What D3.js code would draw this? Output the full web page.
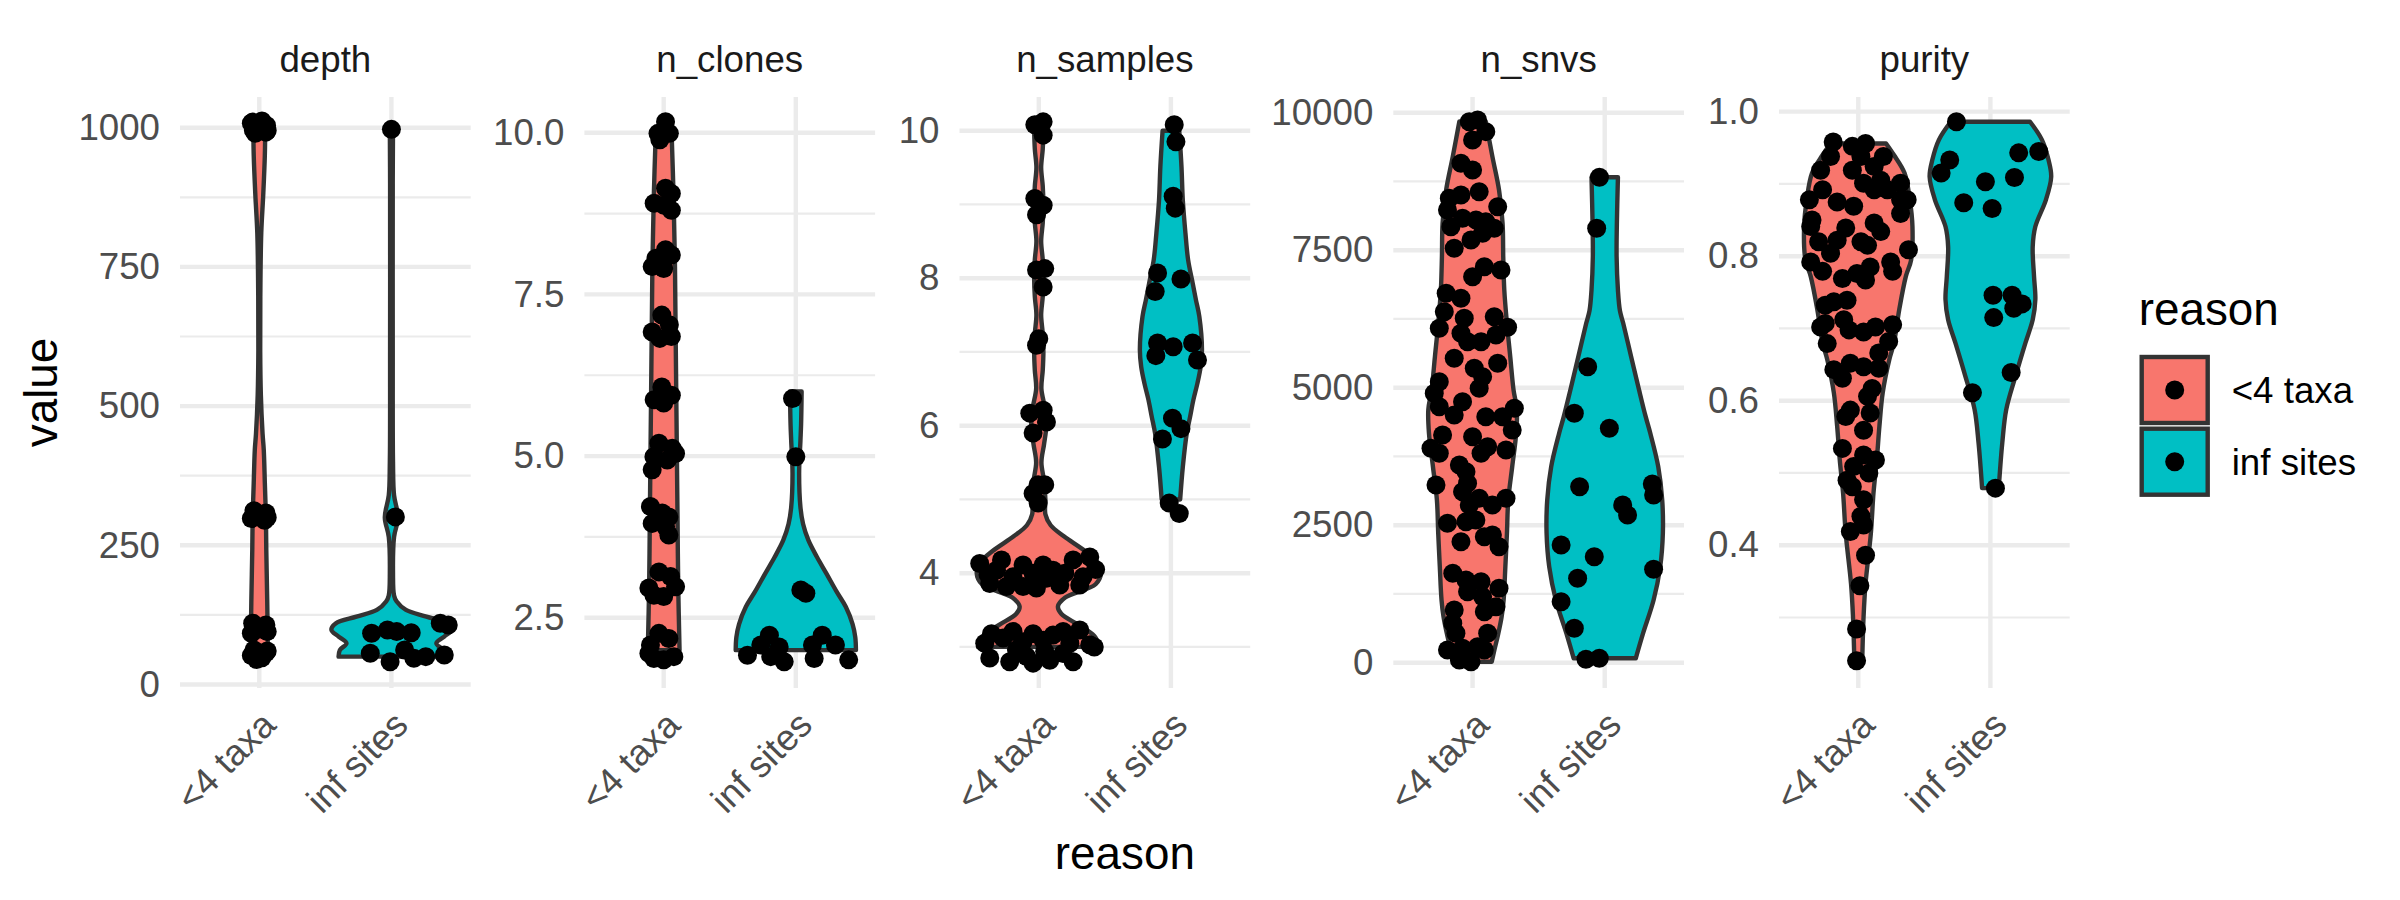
<!DOCTYPE html>
<html>
<head>
<meta charset="utf-8">
<script src="https://cdn.jsdelivr.net/npm/d3@7"></script>
<style>
  body { margin: 0; background: #fff; }
  svg text { font-family: "Liberation Sans", Arial, Helvetica, sans-serif; }
</style>
</head>
<body>
<svg id="chart" width="2400" height="900"></svg>
<script>
// categories
const reasons = ['<4 taxa', 'inf sites'];
const fills = ['#F8766D', '#00BFC4'];
const metrics = ['depth', 'n_clones', 'n_samples', 'n_snvs', 'purity'];

// y axis ticks (major / minor) and visible range per facet
const depthTicks = [0, 250, 500, 750, 1000];
const depthMinor = [125, 375, 625, 875];
const depthRange = [-6.3, 1055.1];
const clonesTicks = [2.5, 5, 7.5, 10];
const clonesMinor = [3.75, 6.25, 8.75];
const clonesRange = [1.415, 10.552];
const samplesTicks = [4, 6, 8, 10];
const samplesMinor = [3, 5, 7, 9];
const samplesRange = [2.443, 10.457];
const snvsTicks = [0, 2500, 5000, 7500, 10000];
const snvsMinor = [1250, 3750, 6250, 8750];
const snvsRange = [-460, 10285];
const purityTicks = [0.4, 0.6, 0.8, 1.0];
const purityMinor = [0.3, 0.5, 0.7, 0.9];
const purityRange = [0.2024, 1.0203];

// violin outlines: [value, half width as share of category step]
const depthViolinTaxa = [[1000,0.045],[950,0.042],[880,0.03],[811,0.015],[700,0.008],[600,0.007],[520,0.012],[450,0.025],[421,0.034],[362,0.042],[300,0.05],[242,0.053],[152,0.06],[100,0.063],[50,0.065]];
const depthViolinInf = [[1000,0.012],[900,0.01],[600,0.01],[400,0.012],[340,0.02],[300,0.05],[265,0.02],[200,0.012],[160,0.02],[149,0.04],[134,0.11],[122,0.265],[110,0.42],[98,0.454],[86,0.40],[74,0.34],[62,0.39],[50,0.40]];
const clonesViolinTaxa = [[10,0.06],[9,0.075],[8,0.085],[7,0.09],[6,0.095],[5,0.1],[4,0.105],[3,0.11],[2,0.12]];
const clonesViolinInf = [[6,0.044],[5.5,0.04],[5.24,0.035],[4.73,0.025],[4.21,0.035],[3.95,0.055],[3.7,0.095],[3.44,0.16],[3.18,0.233],[2.9,0.31],[2.67,0.378],[2.4,0.43],[2.2,0.45],[2,0.455]];
const samplesViolinTaxa = [[10,0.035],[9.75,0.03],[9.5,0.018],[9.25,0.03],[9,0.035],[8.75,0.03],[8.5,0.018],[8.25,0.03],[8,0.035],[7.75,0.03],[7.5,0.018],[7.25,0.03],[7,0.035],[6.75,0.03],[6.5,0.02],[6.25,0.045],[6,0.057],[5.75,0.04],[5.5,0.02],[5.25,0.04],[5,0.05],[4.8,0.05],[4.65,0.09],[4.5,0.19],[4.3,0.35],[4.15,0.44],[4,0.47],[3.85,0.43],[3.67,0.2],[3.55,0.145],[3.45,0.17],[3.3,0.3],[3.15,0.42],[3,0.46]];
const samplesViolinInf = [[10,0.063],[9.51,0.08],[9.06,0.09],[8.61,0.11],[8.25,0.13],[7.93,0.165],[7.7,0.19],[7.48,0.215],[7.03,0.235],[6.8,0.225],[6.57,0.2],[6.35,0.17],[6.12,0.145],[5.9,0.12],[5.44,0.09],[5,0.07]];
const snvsViolinTaxa = [[9840,0.10],[9200,0.15],[8595,0.2],[7989,0.227],[7382,0.232],[6776,0.24],[6170,0.26],[5564,0.285],[4958,0.31],[4600,0.335],[4171,0.33],[3565,0.30],[2958,0.27],[2353,0.26],[1745,0.248],[1140,0.235],[836,0.22],[533,0.195],[231,0.165],[18,0.145]];
const snvsViolinInf = [[8825,0.10],[7989,0.092],[7382,0.09],[6776,0.10],[6400,0.115],[6170,0.14],[5564,0.20],[4958,0.26],[4473,0.31],[4171,0.345],[3565,0.405],[2958,0.435],[2353,0.44],[1745,0.42],[1140,0.37],[533,0.29],[80,0.235]];
const purityViolinTaxa = [[0.956,0.21],[0.94,0.27],[0.915,0.35],[0.878,0.39],[0.841,0.41],[0.795,0.40],[0.772,0.36],[0.726,0.31],[0.68,0.27],[0.657,0.235],[0.611,0.185],[0.565,0.16],[0.518,0.14],[0.472,0.115],[0.416,0.095],[0.347,0.055],[0.301,0.04],[0.241,0.03]];
const purityViolinInf = [[0.986,0.30],[0.961,0.39],[0.933,0.44],[0.91,0.46],[0.878,0.42],[0.841,0.34],[0.813,0.32],[0.772,0.33],[0.74,0.34],[0.712,0.32],[0.68,0.265],[0.634,0.19],[0.588,0.12],[0.542,0.09],[0.479,0.063]];

// jittered points: [value, offset as share of category step]
const depthPtsTaxa = [[1010,-0.05],[1005,0.04],[998,-0.02],[992,0.05],[1002,0],[1008,-0.06],[995,0.06],[990,-0.03],[1012,0.02],[1000,0.03],[996,-0.045],[1004,0.055],
  [312,-0.04],[308,0.05],[303,0],[298,-0.06],[295,0.04],[300,0.06],[305,-0.02],
  [110,-0.05],[104,0.04],[98,-0.03],[95,0.06],[92,-0.06],[100,0.01],[107,0.05],
  [62,-0.04],[57,0.05],[52,-0.06],[48,0.02],[55,0],[45,-0.02],[60,0.06]];
const depthPtsInf = [[997,0],[301,0.03],[92,-0.15],[98,-0.03],[95,0.04],[93,0.15],[110,0.37],[107,0.43],[56,-0.16],[41,-0.01],[62,0.10],[47,0.17],[50,0.26],[53,0.40]];
const clonesPtsTaxa = [[10.17,0.014],[10.04,0.014],[9.99,-0.043],[9.99,0.043],[9.89,-0.029],
  [9.14,0.014],[9.06,0.058],[8.91,-0.072],[8.88,0],[8.80,0.058],
  [8.19,0.014],[8.11,0.058],[8.06,-0.058],[7.93,-0.087],[7.90,0],
  [7.18,-0.014],[7.03,0.043],[6.92,-0.087],[6.85,0.058],[6.82,-0.029],
  [6.07,-0.014],[5.94,0.058],[5.87,-0.072],[5.82,0],
  [5.20,-0.036],[5.12,0.065],[4.99,-0.074],[4.94,0.027],[5.04,0.09],[4.79,-0.087],
  [4.22,-0.1],[4.12,-0.011],[4.06,0.039],[3.96,-0.087],[3.91,0.014],[3.78,0.039],
  [3.21,-0.036],[3.14,0.052],[2.96,-0.112],[2.98,0.09],[2.85,-0.074],[2.83,0],
  [2.26,-0.036],[2.18,0.039],[2.08,-0.1],[1.90,0.077],[1.87,-0.074],[1.85,0],[1.95,-0.112]];
const clonesPtsInf = [[5.89,-0.025],[4.99,0],[2.93,0.038],[2.88,0.076],[2.23,-0.2],[2.08,-0.265],[2.05,-0.126],[1.82,-0.088],[1.90,-0.19],[1.92,-0.366],[2.23,0.2],[2.08,0.3],[1.87,0.139],[1.85,0.4],[2.08,0.126]];
const samplesPtsTaxa = [[10.08,-0.03],[10.12,0.033],[9.94,0.033],[9.08,-0.03],[8.99,0.033],[8.86,-0.017],[8.11,-0.017],[8.13,0.045],[7.88,0.033],[7.18,0],[7.09,-0.017],[6.17,-0.068],[6.21,0.033],[6.05,0.058],[5.90,-0.043],[5.20,-0.005],[5.20,0.045],[5.08,-0.043],[4.95,-0.005],
  [4.13,-0.447],[3.86,-0.371],[4.18,-0.282],[3.95,-0.195],[4.11,-0.119],[4.00,-0.043],[4.11,0.033],[4.04,0.108],[4.00,0.197],[4.18,0.26],[3.95,0.335],[4.22,0.386],[3.98,-0.384],[3.82,-0.245],[3.80,-0.018],[3.84,0.159],[3.84,0.31],[4.04,-0.32],[3.82,-0.119],[3.93,0.058],[4.05,0.43],
  [3.18,-0.358],[3.05,-0.409],[3.12,-0.27],[3.21,-0.195],[3.07,-0.119],[3.18,-0.043],[3.09,0.033],[3.16,0.108],[3.21,0.184],[3.23,0.31],[3.03,0.386],[2.85,-0.371],[2.80,-0.22],[2.87,-0.093],[2.78,-0.043],[2.82,0.083],[2.91,0.184],[2.80,0.26],[2.96,-0.169],[2.94,0.045],[3.05,0.235],[3.0,0.42]];
const samplesPtsInf = [[10.08,0.025],[9.85,0.038],[9.11,0.017],[8.95,0.033],[8.07,-0.101],[7.99,0.076],[7.82,-0.119],[7.12,-0.101],[7.07,0.017],[7.12,0.164],[6.95,-0.114],[6.89,0.201],[6.10,0.012],[5.96,0.076],[5.82,-0.064],[4.95,-0.013],[4.81,0.063]];
const snvsPtsTaxa = [[9836,-0.025],[9867,0.038],[9655,0.10],[9504,0],[9080,-0.088],[8958,0],[8564,0.05],[8443,-0.176],[8504,-0.088],[8231,-0.19],[8291,0.19],[8080,-0.076],[8049,0.026],[8018,0.10],[7898,0.164],[7927,-0.164],[7685,-0.012],[7534,-0.139],[7807,0.076],[7018,0],[7200,0.089],[7140,0.215],[6716,-0.2],[6625,-0.088],[6382,-0.214],[6262,-0.063],[6291,0.164],[6080,-0.252],[6098,0.265],[5989,-0.088],[5836,-0.038],[5836,0.064],[5958,0.177],[5534,-0.139],[5353,0.013],[5444,0.19],[5200,0.076],[5109,-0.252],[4898,-0.29],[4989,0.05],[4654,-0.252],[4745,-0.076],[4504,-0.139],[4625,0.316],[4473,0.10],[4473,0.227],
  [4231,0.30],[4140,-0.227],[4109,0],[3898,-0.315],[3807,-0.252],[3927,0.114],[3807,0.064],[3867,0.253],[3594,-0.10],[3473,-0.05],[3231,-0.277],[3262,-0.038],[3109,-0.076],[2989,0.05],[2989,0.253],[2867,0.15],[2867,-0.025],[2534,-0.19],[2564,-0.05],[2595,0.025],[2200,-0.088],[2291,0.089],[2322,0.15],[2109,0.20],[1625,-0.15],[1504,-0.05],[1473,0.064],[1353,0.20],[1291,-0.038],[1200,0.076],[1018,0.177],[958,-0.139],[927,0.089],[716,-0.15],[535,-0.126],[535,0.114],[231,-0.19],[262,-0.076],[231,0.089],[49,-0.10],[18,-0.012],[291,0.038]];
const snvsPtsInf = [[8825,-0.04],[7898,-0.061],[5382,-0.129],[4535,-0.23],[4261,0.035],[3200,-0.19],[2867,0.136],[2685,0.173],[2140,-0.33],[1927,-0.079],[1534,-0.205],[1109,-0.33],[625,-0.23],[62,-0.142],[80,-0.041],[3250,0.36],[3050,0.37],[1700,0.37]];
const purityPtsTaxa = [[0.958,-0.19],[0.952,-0.045],[0.956,0.055],[0.938,-0.21],[0.938,0.02],[0.938,0.19],[0.919,-0.285],[0.919,-0.045],[0.924,0.12],[0.901,0.04],[0.905,0.17],[0.901,0.32],[0.892,0.22],[0.892,0.12],[0.892,-0.27],[0.878,-0.37],[0.875,-0.16],[0.869,-0.035],[0.878,0.32],[0.878,0.37],[0.859,0.32],[0.850,-0.35],[0.841,-0.36],[0.839,-0.095],[0.846,0.12],[0.834,0.17],[0.820,-0.30],[0.822,-0.16],[0.820,0.02],[0.815,0.07],[0.809,0.38],[0.804,-0.21],[0.792,-0.36],[0.779,-0.27],[0.769,-0.12],[0.776,-0.01],[0.785,0.09],[0.792,0.245],[0.779,0.26],[0.767,0.055],
  [0.732,-0.25],[0.737,-0.185],[0.739,-0.085],[0.707,-0.25],[0.702,-0.285],[0.712,-0.11],[0.698,-0.07],[0.695,0.04],[0.702,0.13],[0.705,0.26],[0.679,-0.235],[0.682,0.23],[0.666,0.155],[0.643,-0.185],[0.652,-0.06],[0.647,0.04],[0.631,-0.12],[0.645,0.155],[0.617,0.105],[0.606,0.07],[0.587,-0.06],[0.583,0.09],[0.578,-0.095],[0.559,0.04],[0.534,-0.12],[0.525,0.04],[0.518,0.13],[0.509,-0.035],[0.500,0.08],[0.490,-0.085],[0.463,0.04],[0.481,-0.045],
  [0.440,0.02],[0.419,-0.06],[0.428,0.04],[0.386,0.055],[0.344,0.012],[0.284,-0.013],[0.240,-0.013]];
const purityPtsInf = [[0.986,-0.257],[0.933,-0.308],[0.915,-0.373],[0.943,0.214],[0.945,0.366],[0.903,-0.038],[0.909,0.182],[0.874,-0.202],[0.866,0.013],[0.746,0.02],[0.746,0.164],[0.734,0.24],[0.728,0.177],[0.715,0.025],[0.639,0.157],[0.611,-0.136],[0.479,0.038]];

// facet table built from the arrays above
const panels = [
  { name: 'depth', range: depthRange, ticks: depthTicks, minor: depthMinor, fmt: d3.format('d'), violins: [depthViolinTaxa, depthViolinInf], points: [depthPtsTaxa, depthPtsInf] },
  { name: 'n_clones', range: clonesRange, ticks: clonesTicks, minor: clonesMinor, fmt: d3.format('.1f'), violins: [clonesViolinTaxa, clonesViolinInf], points: [clonesPtsTaxa, clonesPtsInf] },
  { name: 'n_samples', range: samplesRange, ticks: samplesTicks, minor: samplesMinor, fmt: d3.format('d'), violins: [samplesViolinTaxa, samplesViolinInf], points: [samplesPtsTaxa, samplesPtsInf] },
  { name: 'n_snvs', range: snvsRange, ticks: snvsTicks, minor: snvsMinor, fmt: d3.format('d'), violins: [snvsViolinTaxa, snvsViolinInf], points: [snvsPtsTaxa, snvsPtsInf] },
  { name: 'purity', range: purityRange, ticks: purityTicks, minor: purityMinor, fmt: d3.format('.1f'), violins: [purityViolinTaxa, purityViolinInf], points: [purityPtsTaxa, purityPtsInf] },
];

// layout
const panelLeft = [180, 584.4, 959.5, 1393.3, 1779];
const panelW = 290.7;
const panelTop = 97, panelBottom = 688;
const grid = '#EBEBEB';
const smallFont = 36.7, bigFont = 45.8;

const svg = d3.select('#chart');

panels.forEach((p, i) => {
  const x0 = panelLeft[i];
  const x = d3.scalePoint().domain(reasons).range([x0, x0 + panelW]).padding(0.6);
  const step = x.step();
  const y = d3.scaleLinear().domain(p.range).range([panelBottom, panelTop]);
  const g = svg.append('g').attr('class', 'panel');

  g.append('g').selectAll('line')
    .data(p.minor)
    .join('line')
    .attr('x1', x0).attr('x2', x0 + panelW)
    .attr('y1', d => y(d)).attr('y2', d => y(d))
    .attr('stroke', grid).attr('stroke-width', 2.2);

  g.append('g').selectAll('line')
    .data(p.ticks)
    .join('line')
    .attr('x1', x0).attr('x2', x0 + panelW)
    .attr('y1', d => y(d)).attr('y2', d => y(d))
    .attr('stroke', grid).attr('stroke-width', 4.4);

  g.append('g').selectAll('line')
    .data(reasons)
    .join('line')
    .attr('x1', d => x(d)).attr('x2', d => x(d))
    .attr('y1', panelTop).attr('y2', panelBottom)
    .attr('stroke', grid).attr('stroke-width', 4.4);

  // y axis labels
  const yAxis = g.append('g')
    .attr('transform', `translate(${x0},0)`)
    .call(d3.axisLeft(y).tickValues(p.ticks).tickFormat(p.fmt).tickSize(0).tickPadding(20));
  yAxis.select('.domain').remove();
  yAxis.selectAll('text')
    .attr('font-size', smallFont)
    .attr('fill', '#4D4D4D')
    .attr('font-family', '"Liberation Sans", Arial, sans-serif');

  // x axis labels, rotated
  const xAxis = g.append('g')
    .attr('transform', `translate(0,${panelBottom})`)
    .call(d3.axisBottom(x).tickSize(0).tickPadding(0));
  xAxis.select('.domain').remove();
  xAxis.selectAll('text')
    .attr('y', 0).attr('dy', 0)
    .attr('text-anchor', 'end')
    .attr('transform', 'translate(18,39) rotate(-45)')
    .attr('font-size', smallFont)
    .attr('fill', '#4D4D4D')
    .attr('font-family', '"Liberation Sans", Arial, sans-serif');

  // strip label
  g.append('text')
    .attr('x', x0 + panelW / 2)
    .attr('y', 72)
    .attr('text-anchor', 'middle')
    .attr('font-size', smallFont)
    .attr('fill', '#1A1A1A')
    .text(p.name);

  // violins
  reasons.forEach((r, k) => {
    const cx = x(r);
    const area = d3.area()
      .curve(d3.curveCatmullRom)
      .y(d => y(d[0]))
      .x0(d => cx - d[1] * step)
      .x1(d => cx + d[1] * step);
    g.append('path')
      .datum(p.violins[k])
      .attr('d', area)
      .attr('fill', fills[k])
      .attr('stroke', '#333333')
      .attr('stroke-width', 4.4)
      .attr('stroke-linejoin', 'round');
  });

  // jittered points
  reasons.forEach((r, k) => {
    const cx = x(r);
    g.append('g').selectAll('circle')
      .data(p.points[k])
      .join('circle')
      .attr('cx', d => cx + d[1] * step)
      .attr('cy', d => y(d[0]))
      .attr('r', 9.5)
      .attr('fill', '#000');
  });
});

// axis titles
svg.append('text')
  .attr('transform', `translate(57,${(panelTop + panelBottom) / 2}) rotate(-90)`)
  .attr('text-anchor', 'middle')
  .attr('font-size', bigFont)
  .attr('fill', '#000')
  .text('value');

svg.append('text')
  .attr('x', (panelLeft[0] + panelLeft[4] + panelW) / 2)
  .attr('y', 869)
  .attr('text-anchor', 'middle')
  .attr('font-size', bigFont)
  .attr('fill', '#000')
  .text('reason');

// legend
const legend = svg.append('g').attr('transform', 'translate(2138.7,0)');
legend.append('text')
  .attr('x', 0).attr('y', 325)
  .attr('font-size', bigFont)
  .attr('fill', '#000')
  .text('reason');

const keys = legend.selectAll('g.key')
  .data(reasons)
  .join('g')
  .attr('class', 'key')
  .attr('transform', (d, k) => `translate(36,${390 + k * 71.7})`);

keys.append('rect')
  .attr('x', -33).attr('y', -33)
  .attr('width', 66).attr('height', 66)
  .attr('fill', (d, k) => fills[k])
  .attr('stroke', '#333333')
  .attr('stroke-width', 4.4);

keys.append('circle')
  .attr('r', 9.5)
  .attr('fill', '#000');

keys.append('text')
  .attr('x', 57)
  .attr('dy', '0.35em')
  .attr('font-size', smallFont)
  .attr('fill', '#000')
  .text(d => d);
</script>
</body>
</html>
